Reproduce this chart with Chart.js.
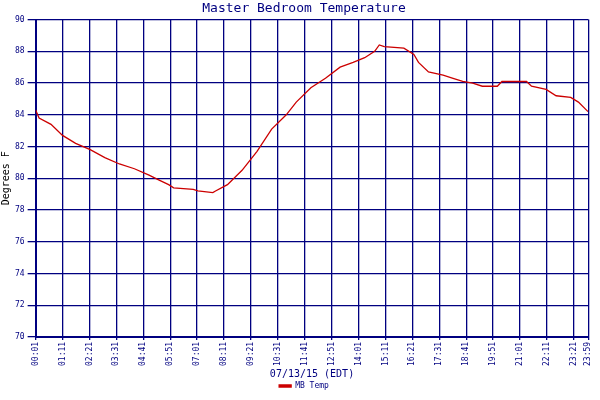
<!DOCTYPE html>
<html><head><meta charset="utf-8">
<script src="https://cdn.jsdelivr.net/npm/chart.js@4"></script>
<style>body{margin:0;background:#fff}#w{width:600px;height:400px}</style>
</head><body><div id="w"><canvas id="c"></canvas></div>
<script>
const minutes=[1,10,41,71,105,143,181,219,258,296,321,347,360,411,423,462,469,500,538,577,615,653,679,717,755,793,827,857,883,895,908,959,985,997,1023,1061,1087,1112,1138,1163,1202,1214,1278,1291,1329,1355,1393,1413,1438];
const temps=[84.3,83.8,83.4,82.7,82.2,81.8,81.3,80.9,80.6,80.2,79.9,79.6,79.4,79.3,79.2,79.1,79.2,79.6,80.5,81.7,83.1,84.0,84.8,85.7,86.3,87.0,87.3,87.6,88.0,88.4,88.3,88.2,87.8,87.3,86.7,86.5,86.3,86.1,86.0,85.8,85.8,86.1,86.1,85.8,85.6,85.2,85.1,84.8,84.2];
const tickMinutes=[1,71,141,211,281,351,421,491,561,631,701,771,841,911,981,1051,1121,1191,1261,1331,1401,1439];
const fmt=m=>String(Math.floor(m/60)).padStart(2,'0')+':'+String(m%60).padStart(2,'0');
const blue='#000080',F="'DejaVu Sans Mono', monospace";
new Chart(document.getElementById('c'),{type:'line',
data:{datasets:[{label:'MB Temp',data:minutes.map((m,i)=>({x:m,y:temps[i]})),borderColor:'#cc0000',backgroundColor:'#cc0000',borderWidth:1.3,pointRadius:0,tension:0}]},
options:{animation:false,responsive:true,maintainAspectRatio:false,
layout:{padding:{left:0,right:-8,top:0,bottom:0}},
plugins:{title:{display:true,text:'Master Bedroom Temperature',color:blue,font:{family:F,size:13,weight:'normal'},padding:{top:1,bottom:3}},
legend:{position:'bottom',labels:{color:blue,font:{family:F,size:8},boxWidth:12,boxHeight:2,padding:2}}},
scales:{x:{type:'linear',min:1,max:1439,afterBuildTicks:a=>{a.ticks=tickMinutes.map(v=>({value:v}))},
ticks:{color:blue,font:{family:F,size:8},maxRotation:90,minRotation:90,autoSkip:false,padding:2,callback:v=>fmt(v)},
grid:{color:blue,lineWidth:1.3,tickLength:3},border:{color:blue,width:2},
title:{display:true,text:'07/13/15 (EDT)',color:blue,font:{family:F,size:10},padding:{top:0,bottom:0}}},
y:{min:70,max:90,ticks:{stepSize:2,color:blue,font:{family:F,size:8}},grid:{color:blue,lineWidth:1.3},border:{color:blue,width:2},
title:{display:true,text:'Degrees F',color:'#000',font:{family:F,size:10},padding:0}}}}});
</script></body></html>
